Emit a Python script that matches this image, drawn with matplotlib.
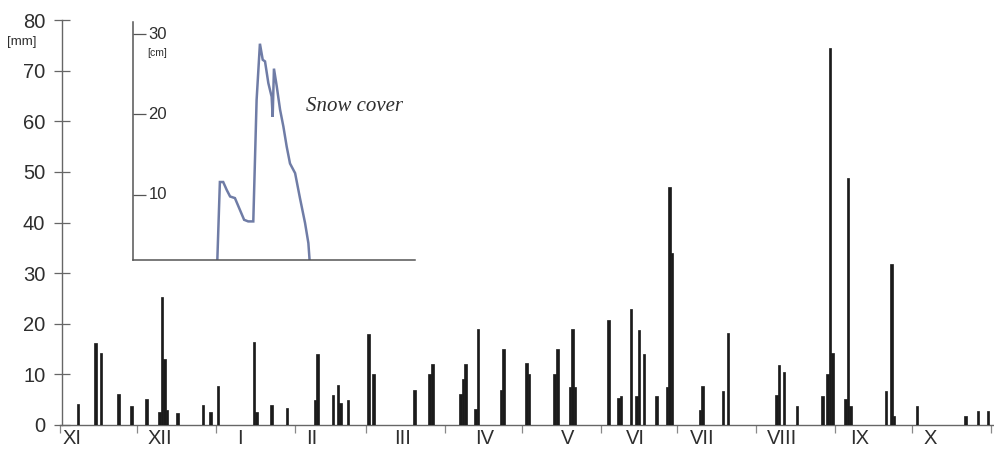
import matplotlib
matplotlib.use("Agg")
import matplotlib.pyplot as plt
import matplotlib.transforms as mtransforms

# ---- data: daily precipitation (day index from 1 Nov) ----
precip_days = [7, 14, 16, 23, 28, 34, 39, 40, 41, 42, 46, 56, 59, 62,
               76, 77, 83, 89, 100, 101, 107, 109, 110, 113, 121, 123,
               139, 145, 146, 157, 158, 159, 163, 164, 173, 174,
               183, 184, 194, 195, 200, 201, 202,
               215, 219, 220, 224, 226, 227, 229, 234, 238, 239, 240,
               251, 252, 260, 262, 281, 282, 284, 289,
               299, 301, 302, 303, 308, 309, 310, 324, 326, 327,
               336, 355, 360, 364]
precip_mm = [4.1, 16.2, 14.2, 6.1, 3.7, 5.1, 2.5, 25.2, 13.0, 3.0, 2.3, 4.0, 2.6, 7.8,
             16.3, 2.5, 4.0, 3.3, 5.0, 14.0, 6.0, 8.0, 4.3, 5.0, 18.0, 10.0,
             7.0, 10.0, 12.0, 6.2, 9.0, 12.0, 3.2, 19.0, 7.0, 15.0,
             12.3, 10.0, 10.0, 15.0, 7.5, 19.0, 7.5,
             20.8, 5.3, 5.8, 23.0, 5.8, 18.8, 14.0, 5.8, 7.6, 47.0, 34.0,
             3.0, 7.8, 6.8, 18.2, 6.0, 11.8, 10.5, 3.8,
             5.8, 10.0, 74.5, 14.2, 5.2, 48.7, 3.8, 6.7, 31.8, 1.8,
             3.7, 1.8, 2.7, 2.7]

# month boundaries (days since 1 Nov) and labels
month_starts = [0, 30, 61, 92, 120, 151, 181, 212, 242, 273, 304, 334, 365]
month_labels = ["XI", "XII", "I", "II", "III", "IV", "V", "VI", "VII", "VIII", "IX", "X"]
month_label_pos = [4.7, 39.2, 70.6, 98.8, 134.5, 166.7, 199.2, 225.5, 251.8, 283.1, 313.7, 341.2]

y_ticks = [0, 10, 20, 30, 40, 50, 60, 70, 80]

# ---- snow cover (inset) ----
snow_days = [61.5, 62.7, 64.0, 65.4, 66.7, 68.6, 70.6, 72.2, 73.8, 75.8, 77.1, 78.4,
             79.5, 80.4, 81.7, 83.0, 83.4, 83.9, 85.0, 86.3, 87.6, 88.9, 90.2,
             92.2, 94.1, 96.1, 97.4, 98.3]
snow_cm = [0.0, 11.6, 11.6, 10.6, 9.8, 9.6, 8.1, 6.9, 6.7, 6.7, 21.8, 28.8,
           26.8, 26.6, 23.9, 22.2, 19.7, 25.7, 23.5, 20.6, 18.5, 16.0, 13.9,
           12.7, 9.6, 6.5, 4.0, 0.0]
snow_ticks = [10, 20, 30]

W, H = 994, 458
fig = plt.figure(figsize=(W / 100, H / 100), dpi=100)
fig.patch.set_facecolor("white")

text_col = "#2e2e2e"
spine_col = "#666666"

# main axes
ax = fig.add_axes([60 / W, 1 - 425 / H, 1 - 60 / W, (425 - 20) / H])
ax.bar(precip_days, precip_mm, width=1.0, color="#1b1b1b", edgecolor="#1b1b1b",
       linewidth=0.5, align="center", zorder=3)
ax.set_xlim(0, (W - 60) / 2.55)
ax.set_ylim(0, 80)
for s in ["top", "right"]:
    ax.spines[s].set_visible(False)
ax.spines["left"].set_color(spine_col)
ax.spines["bottom"].set_color(spine_col)
ax.spines["left"].set_linewidth(1.0)
ax.spines["bottom"].set_linewidth(1.0)
ax.spines["left"].set_position(("data", 0.8))

ax.set_yticks(y_ticks)
ax.set_yticklabels([str(v) for v in y_ticks], fontsize=14.5, color=text_col,
                   family="Liberation Sans")
ax.tick_params(axis="y", direction="inout", length=12, width=0.9, color=spine_col, pad=6)

ax.set_xticks(month_starts)
ax.set_xticklabels([])
ax.tick_params(axis="x", which="major", direction="out", length=6, width=0.9, color="#888888")
ax.set_xticks(month_label_pos, minor=True)
ax.set_xticklabels(month_labels, minor=True, fontsize=14.5, color=text_col,
                   family="Liberation Sans")
ax.tick_params(axis="x", which="minor", length=0, pad=3)

fig.text(7 / W, 1 - 42 / H, "[mm]", fontsize=9.5, color=text_col, va="center", ha="left",
         family="Liberation Sans")

# inset axes
ax2 = fig.add_axes([133 / W, 1 - 260 / H, (415 - 133) / W, (260 - 22) / H])
ax2.patch.set_alpha(0)
ax2.plot(snow_days, snow_cm, color="#6f7ca6", lw=1.8, solid_joinstyle="miter")
ax2.set_xlim((133 - 60) / 2.55, (415 - 60) / 2.55)
ax2.set_ylim(1.9, 31.5)
for s in ["top", "right"]:
    ax2.spines[s].set_visible(False)
for s in ["left", "bottom"]:
    ax2.spines[s].set_color("#555555")
    ax2.spines[s].set_linewidth(1.1)
ax2.set_xticks([])
ax2.set_yticks(snow_ticks)
ax2.set_yticklabels([])
ax2.tick_params(axis="y", direction="in", length=9, width=0.9, color="#555555")
tr = mtransforms.blended_transform_factory(ax2.transAxes, ax2.transData)
for t in snow_ticks:
    ax2.text(0.055, t, str(t), transform=tr, fontsize=12, color=text_col,
             va="center", ha="left", family="Liberation Sans")
ax2.text(0.05, 27.6, "[cm]", transform=tr, fontsize=7.5, color=text_col,
         va="center", ha="left", family="Liberation Sans")
ax2.text(0.615, 21.0, "Snow cover", transform=tr, fontsize=15, color=text_col,
         style="italic", va="center", ha="left", family="Liberation Serif")

fig.savefig("out.png", dpi=100, facecolor="white")
